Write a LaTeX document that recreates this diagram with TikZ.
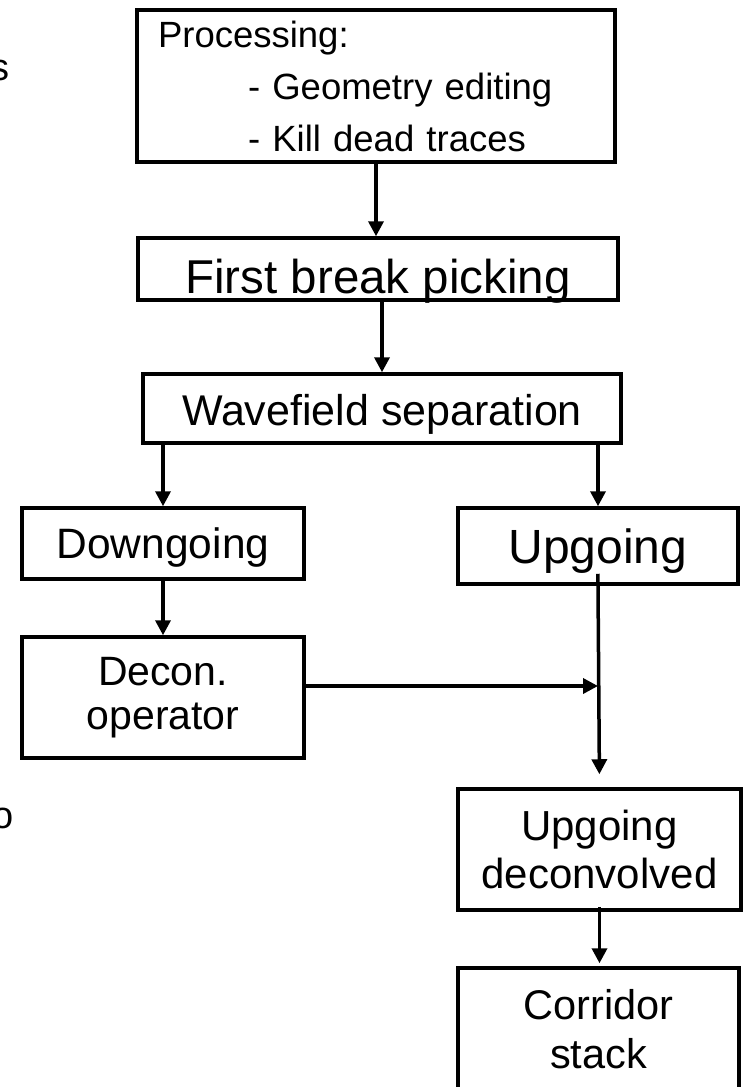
\documentclass[tikz,border=0pt]{standalone}
\usepackage{fontspec}
\setmainfont{Liberation Sans}
\usetikzlibrary{arrows.meta}

\tikzset{
    box/.style={draw, line width=3.5pt, inner sep=0pt, align=center},
    arr/.style={line width=3.5pt, -{Triangle[length=15pt,width=15pt]}},
    cut/.style={anchor=base east, inner sep=0pt, font=\fontsize{38}{46}\selectfont}
}

\begin{document}
\begin{tikzpicture}[x=1pt,y=-1pt]

    \useasboundingbox (0,0) rectangle (745,1087);

    % left column, cut off by the page
    \node[cut] (colS) at (10,80) {s};
    \node[cut] (colO) at (14,828) {o};

    % top of the chain
    \node[box, minimum width=478pt, minimum height=152pt, text width=436pt, align=left,
          font=\fontsize{36.5}{52}\selectfont] (proc) at (376,86)
          {Processing:\\\hspace*{90pt}- Geometry editing\\\hspace*{90pt}- Kill dead traces};
    \node[box, minimum width=480pt, minimum height=62pt, text height=48pt, text depth=0pt,
          font=\fontsize{47.5}{56}\selectfont] (pick) at (378,269) {First break picking};
    \node[box, minimum width=478pt, minimum height=69pt, text height=33pt, text depth=0pt,
          font=\fontsize{43}{52}\selectfont] (wave) at (382,408.5) {Wavefield separation};

    % downgoing side
    \node[box, minimum width=282pt, minimum height=71pt, text height=30pt, text depth=0pt,
          font=\fontsize{42.5}{50}\selectfont] (down) at (163,543.5) {Downgoing};
    \node[box, minimum width=282pt, minimum height=121pt,
          font=\fontsize{41}{44}\selectfont] (decon) at (163,697.5) {Decon.\\operator};

    % upgoing side
    \node[box, minimum width=280pt, minimum height=76pt, text height=34pt, text depth=0pt,
          font=\fontsize{48}{56}\selectfont] (up) at (598,546) {Upgoing};
    \node[box, minimum width=283pt, minimum height=121pt,
          font=\fontsize{42}{48}\selectfont] (updecon) at (599.5,849.5) {Upgoing\\deconvolved};
    \node[box, minimum width=281pt, minimum height=122pt,
          font=\fontsize{41.5}{49}\selectfont] (stack) at (598.5,1029) {Corridor\\stack};

    % arrows
    \draw[arr] (proc.south) -- (proc.south |- pick.north);
    \draw[arr] (wave.north |- pick.south) -- (wave.north);
    \draw[arr] (down.north |- wave.south) -- (down.north);
    \draw[arr] (up.north |- wave.south) -- (up.north);
    \draw[arr] (down.south) -- (decon.north);
    \draw[arr, shorten <=-12pt, shorten >=13pt] (up.south) -- (updecon.north);
    \draw[arr] ([yshift=11.5pt]decon.east) -- ([yshift=11.5pt]decon.east -| up.south);
    \draw[arr, shorten <=-5pt, shorten >=3pt] (updecon.south) -- (updecon.south |- stack.north);

\end{tikzpicture}
\end{document}
